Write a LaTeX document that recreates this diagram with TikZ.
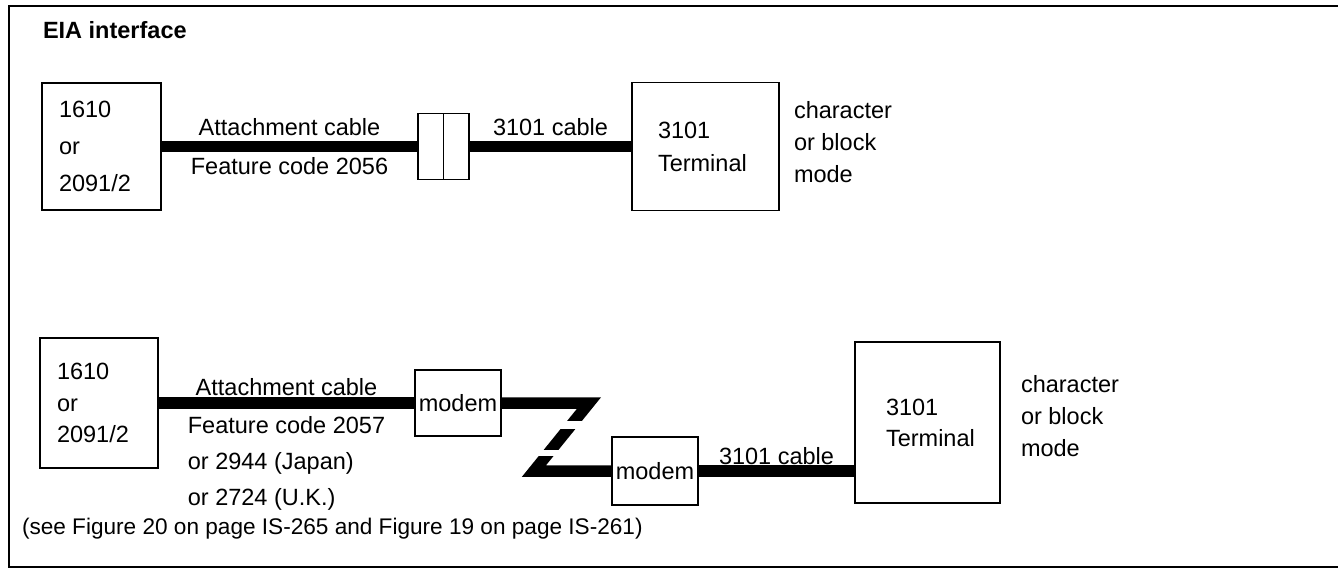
\documentclass[tikz,border=0pt]{standalone}
\usepackage{fontspec}
\setmainfont{Liberation Sans}
\usetikzlibrary{positioning,calc}

\begin{document}
\begin{tikzpicture}[
        x=1pt, y=-1pt,
        font=\fontsize{23.5}{32}\selectfont,
        inner sep=0pt, outer sep=0pt,
        box/.style={draw, line width=1.8pt, align=left},
        cable/.style={line width=11.5pt},
        gap/.style={fill=white}
    ]
        \useasboundingbox (0,0) rectangle (1338,568);
        \draw[line width=2pt] (1338,6) -- (9,6) -- (9,567) -- (1338,567);
        \node[anchor=west, font=\fontsize{23.5}{32}\selectfont\bfseries] (title) at (43,30) {EIA interface};

        \node[box, text width=85pt, minimum width=119pt, minimum height=127pt, font=\fontsize{23.5}{37}\selectfont] (host1) at (101.5,146.5) {1610\\or\\2091/2};
        \node[box, minimum width=51pt, minimum height=66pt, right=257pt of host1] (conn) {};
        \node[box, text width=95pt, minimum width=147pt, minimum height=128pt, font=\fontsize{23.5}{33}\selectfont, right=163pt of conn] (term1) {3101\\Terminal};
        \node[align=left, right=15pt of term1, yshift=4.5pt] (mode1) {character\\or block\\mode};
        \draw[box] (conn.north) -- (conn.south);
        \draw[cable] (host1) -- node[above=11pt] (att1) {Attachment cable} node[below=11pt] (fc1) {Feature code 2056} (conn);
        \draw[cable] (conn) -- node[above=11pt] (cab1) {3101 cable} (term1);

        \node[box, text width=84pt, minimum width=118pt, minimum height=130pt, font=\fontsize{23.5}{31.5}\selectfont] (host2) at (99,403) {1610\\or\\2091/2};
        \node[box, minimum width=86pt, minimum height=66pt, right=257pt of host2] (m1) {modem};
        \node[box, minimum width=86pt, minimum height=68pt] (m2) at (655,471) {modem};
        \node[box, text width=83pt, minimum width=145pt, minimum height=161pt, font=\fontsize{23.5}{31}\selectfont] (term2) at (927.5,422.5) {3101\\Terminal};
        \node[align=left, right=21pt of term2, yshift=6.5pt] (mode2) {character\\or block\\mode};
        \draw[cable] (host2) -- node[above=7.5pt] (att2) {Attachment cable} node[below=13.5pt, align=left, font=\fontsize{23.5}{36}\selectfont] (fc2) {Feature code 2057\\or 2944 (Japan)\\or 2724 (U.K.)} (m1);
        \draw[cable, line join=miter] (m1.east) -- ++(88,0) coordinate (zt) -- ($(m2.west)+(-78,0)$) coordinate (zb) -- (m2.west);
        \fill[gap] ($(zt)+(-34,18)$) rectangle ($(zt)+(2,26)$);
        \fill[gap] ($(zb)+(-2,-21)$) rectangle ($(zb)+(32,-15)$);
        \draw[cable] (m2.east) -- node[above=6.5pt] (cab2) {3101 cable} (m2.east -| term2.west);

        \node[anchor=west, font=\fontsize{22.6}{30}\selectfont] (note) at (22,529) {(see Figure 20 on page IS-265 and Figure 19 on page IS-261)};
    \end{tikzpicture}
\end{document}
